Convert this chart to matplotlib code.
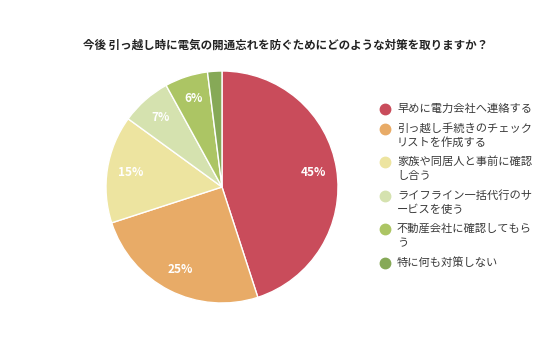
import matplotlib.pyplot as plt

plt.rcParams['font.family'] = ['Noto Sans CJK JP', 'DejaVu Sans']

title = "今後 引っ越し時に電気の開通忘れを防ぐためにどのような対策を取りますか？"
labels = ["早めに電力会社へ連絡する",
          "引っ越し手続きのチェック\nリストを作成する",
          "家族や同居人と事前に確認\nし合う",
          "ライフライン一括代行のサ\nービスを使う",
          "不動産会社に確認してもら\nう",
          "特に何も対策しない"]
values = [45, 25, 15, 7, 6, 2]
colors = ["#C94C5B", "#E8AB67", "#EDE4A0", "#D5E2AF", "#ACC564", "#86A957"]

W, H = 536, 357
fig = plt.figure(figsize=(W / 100, H / 100), dpi=100)

# pie, centre ~(222,187) px, radius ~116 px
cx, cy, r = 222, 187, 116
ax = fig.add_axes([(cx - r) / W, (H - cy - r) / H, 2 * r / W, 2 * r / H])

def fmt(p):
    return "%d%%" % round(p) if p >= 5 else ""

wedges, texts, autotexts = ax.pie(values, colors=colors, startangle=90, counterclock=False,
                                  autopct=fmt, pctdistance=0.8,
                                  wedgeprops=dict(edgecolor="white", linewidth=1))
for t in autotexts:
    t.set_color("white")
    t.set_fontweight("bold")
    t.set_fontsize(8.5)
ax.set_xlim(-1, 1)
ax.set_ylim(-1, 1)
ax.set_aspect("equal")

fig.text(286 / W, 1 - 45 / H, title, ha="center", va="center", fontsize=8.3, fontweight="bold",
         color="#222222")

# legend drawn in a pixel-coordinate overlay
lg = fig.add_axes([0, 0, 1, 1], facecolor="none")
lg.set_xlim(0, W)
lg.set_ylim(H, 0)
lg.axis("off")
y = 109
for lab, c in zip(labels, colors):
    lg.plot(385, y, marker="o", markersize=7.5, color=c, linestyle="")
    for line in lab.split("\n"):
        lg.text(397, y, line, fontsize=8.1, va="center", ha="left", color="#3a3a3a")
        y += 14
    y += 5.5

fig.savefig("out.png", dpi=100)
